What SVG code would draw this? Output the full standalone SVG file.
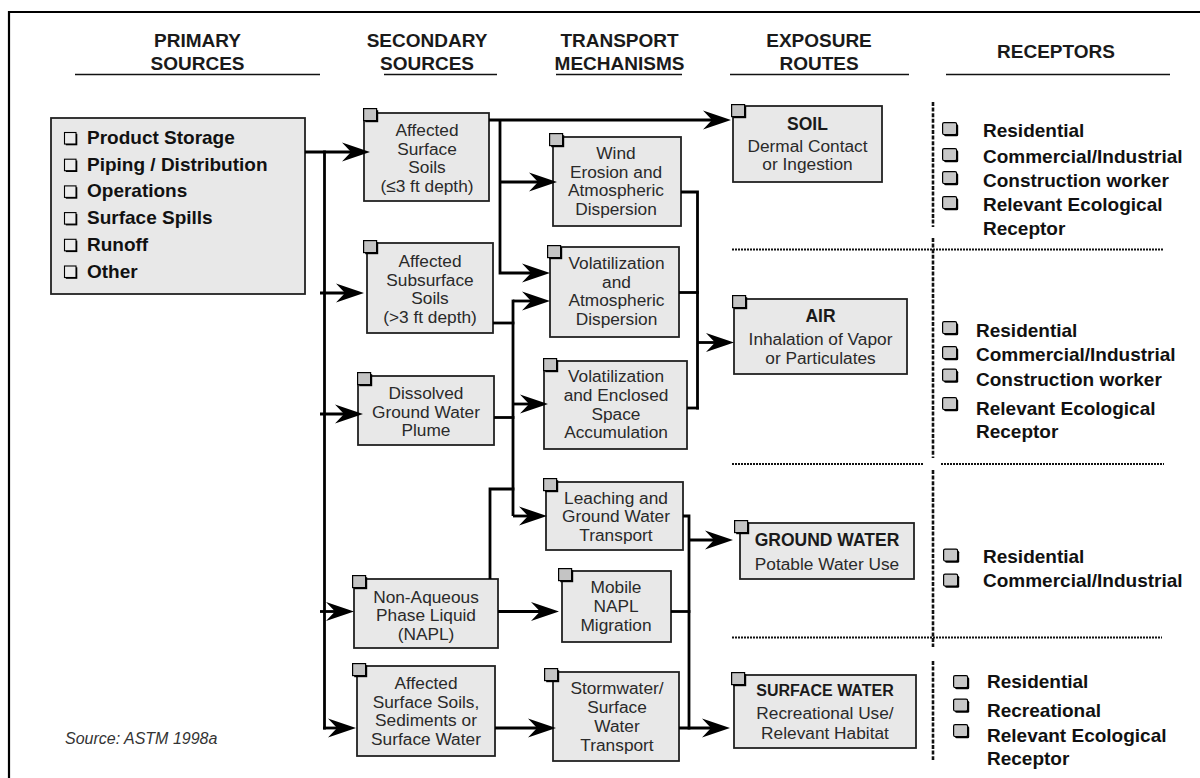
<svg xmlns="http://www.w3.org/2000/svg" xmlns:xlink="http://www.w3.org/1999/xlink" width="1200" height="778" viewBox="0 0 1200 778">
<style>
text{font-family:"Liberation Sans",Arial,sans-serif}
.h{font-size:19px;font-weight:bold;fill:#1a1a1a;text-anchor:middle}
.t{font-size:17.3px;fill:#2a2a2a;text-anchor:middle}
.tb{font-size:17.5px;font-weight:bold;fill:#1a1a1a;text-anchor:middle}
.p{font-size:19px;font-weight:bold;fill:#111}
.r{font-size:19px;font-weight:bold;fill:#111}
.src{font-size:16px;font-style:italic;fill:#333}
.box{fill:#e8e8e8;stroke:#222;stroke-width:1.8}
.ul{stroke:#111;stroke-width:1.7;fill:none}
.c{stroke:#000;stroke-width:2.8;fill:none}
.ca{stroke:#000;stroke-width:2.8;fill:none;marker-end:url(#arr)}
.dh{stroke:#111;stroke-width:2;stroke-dasharray:2 1;fill:none}
.dv{stroke:#111;stroke-width:2.6;stroke-dasharray:4 1.6;fill:none}
</style>
<defs>
<marker id="arr" viewBox="-19 -10 30 20" markerWidth="30" markerHeight="20" refX="0" refY="0" orient="auto" markerUnits="userSpaceOnUse" overflow="visible">
<path d="M10,0 L-18,-9.5 L-9,0 L-18,9.5 Z" fill="#000"/>
</marker>
<g id="tab"><rect x="2.2" y="2.2" width="13" height="12" fill="#000"/><rect x="0.6" y="0.6" width="13" height="12" fill="#c4c4c4" stroke="#000" stroke-width="1.2"/></g>
<g id="rbox"><rect x="2.2" y="2.2" width="14" height="12" rx="1.5" fill="#000"/><rect x="0.6" y="0.6" width="14" height="12" rx="1.5" fill="#c8c8c8" stroke="#000" stroke-width="1.2"/></g>
<g id="pbox"><rect x="1.8" y="1.8" width="11.5" height="11.5" fill="#000"/><rect x="0.5" y="0.5" width="11.5" height="11.5" fill="#ececec" stroke="#000" stroke-width="1.1"/></g>
</defs>
<rect width="1200" height="778" fill="#fff"/>
<path d="M9,790 V12 H1210" fill="none" stroke="#000" stroke-width="2.2"/>

<g id="headers">
<text class="h" x="197.5" y="46.5">PRIMARY</text>
<text class="h" x="197.5" y="69.5">SOURCES</text>
<line class="ul" x1="75" y1="74.5" x2="320" y2="74.5"/>
<text class="h" x="427" y="46.5">SECONDARY</text>
<text class="h" x="427" y="69.5">SOURCES</text>
<line class="ul" x1="384" y1="74.5" x2="497" y2="74.5"/>
<text class="h" x="619.5" y="46.5">TRANSPORT</text>
<text class="h" x="619.5" y="69.5">MECHANISMS</text>
<line class="ul" x1="556" y1="74.5" x2="682" y2="74.5"/>
<text class="h" x="819" y="46.5">EXPOSURE</text>
<text class="h" x="819" y="69.5">ROUTES</text>
<line class="ul" x1="730" y1="74.5" x2="909" y2="74.5"/>
<text class="h" x="1056" y="58">RECEPTORS</text>
<line class="ul" x1="946" y1="74.5" x2="1170" y2="74.5"/>
</g>

<g id="primary">
<rect class="box" x="51" y="118" width="254" height="176"/>
<use xlink:href="#pbox" x="64" y="132"/>
<use xlink:href="#pbox" x="64" y="158.7"/>
<use xlink:href="#pbox" x="64" y="185.4"/>
<use xlink:href="#pbox" x="64" y="212.1"/>
<use xlink:href="#pbox" x="64" y="238.8"/>
<use xlink:href="#pbox" x="64" y="265.5"/>
<text class="p" x="87" y="144">Product Storage</text>
<text class="p" x="87" y="170.7">Piping / Distribution</text>
<text class="p" x="87" y="197.4">Operations</text>
<text class="p" x="87" y="224.1">Surface Spills</text>
<text class="p" x="87" y="250.8">Runoff</text>
<text class="p" x="87" y="277.5">Other</text>
</g>

<g id="s1">
<rect class="box" x="364" y="113" width="125" height="88"/>
<use xlink:href="#tab" x="363" y="108"/>
<text class="t" x="427" y="136">Affected</text>
<text class="t" x="427" y="154.5">Surface</text>
<text class="t" x="427" y="173">Soils</text>
<text class="t" x="427" y="191.5">(≤3 ft depth)</text>
</g>
<g id="s2">
<rect class="box" x="367" y="243" width="126" height="90"/>
<use xlink:href="#tab" x="363" y="240"/>
<text class="t" x="430" y="267">Affected</text>
<text class="t" x="430" y="285.5">Subsurface</text>
<text class="t" x="430" y="304">Soils</text>
<text class="t" x="430" y="322.5">(&gt;3 ft depth)</text>
</g>
<g id="s3">
<rect class="box" x="358" y="376" width="136" height="69"/>
<use xlink:href="#tab" x="357" y="372"/>
<text class="t" x="426" y="399">Dissolved</text>
<text class="t" x="426" y="417.5">Ground Water</text>
<text class="t" x="426" y="436">Plume</text>
</g>
<g id="s4">
<rect class="box" x="354" y="579" width="144" height="69"/>
<use xlink:href="#tab" x="352" y="575"/>
<text class="t" x="426" y="602.5">Non-Aqueous</text>
<text class="t" x="426" y="621">Phase Liquid</text>
<text class="t" x="426" y="639.5">(NAPL)</text>
</g>
<g id="s5">
<rect class="box" x="357" y="666" width="138" height="90"/>
<use xlink:href="#tab" x="352" y="663"/>
<text class="t" x="426" y="689">Affected</text>
<text class="t" x="426" y="707.5">Surface Soils,</text>
<text class="t" x="426" y="726">Sediments or</text>
<text class="t" x="426" y="744.5">Surface Water</text>
</g>

<g id="t1">
<rect class="box" x="553" y="137" width="128" height="89"/>
<use xlink:href="#tab" x="549" y="133"/>
<text class="t" x="616" y="159">Wind</text>
<text class="t" x="616" y="177.5">Erosion and</text>
<text class="t" x="616" y="196">Atmospheric</text>
<text class="t" x="616" y="214.5">Dispersion</text>
</g>
<g id="t2">
<rect class="box" x="550" y="247" width="129" height="90"/>
<use xlink:href="#tab" x="547" y="245"/>
<text class="t" x="616.5" y="269">Volatilization</text>
<text class="t" x="616.5" y="287.5">and</text>
<text class="t" x="616.5" y="306">Atmospheric</text>
<text class="t" x="616.5" y="324.5">Dispersion</text>
</g>
<g id="t3">
<rect class="box" x="544" y="361" width="143" height="88"/>
<use xlink:href="#tab" x="543" y="358"/>
<text class="t" x="616" y="382">Volatilization</text>
<text class="t" x="616" y="400.5">and Enclosed</text>
<text class="t" x="616" y="419.5">Space</text>
<text class="t" x="616" y="438">Accumulation</text>
</g>
<g id="t4">
<rect class="box" x="546" y="482" width="137" height="68"/>
<use xlink:href="#tab" x="543" y="478"/>
<text class="t" x="616" y="503.5">Leaching and</text>
<text class="t" x="616" y="522">Ground Water</text>
<text class="t" x="616" y="540.5">Transport</text>
</g>
<g id="t5">
<rect class="box" x="562" y="571" width="109" height="71"/>
<use xlink:href="#tab" x="558" y="568"/>
<text class="t" x="616" y="592.5">Mobile</text>
<text class="t" x="616" y="611.5">NAPL</text>
<text class="t" x="616" y="630.5">Migration</text>
</g>
<g id="t6">
<rect class="box" x="553" y="672" width="126" height="89"/>
<use xlink:href="#tab" x="544" y="668"/>
<text class="t" x="617" y="693.5">Stormwater/</text>
<text class="t" x="617" y="712.5">Surface</text>
<text class="t" x="617" y="731.5">Water</text>
<text class="t" x="617" y="750.5">Transport</text>
</g>

<g id="e1">
<rect class="box" x="733" y="106" width="149" height="76"/>
<use xlink:href="#tab" x="731" y="104"/>
<text class="tb" x="807.5" y="129.5">SOIL</text>
<text class="t" x="807.5" y="151.5">Dermal Contact</text>
<text class="t" x="807.5" y="170">or Ingestion</text>
</g>
<g id="e2">
<rect class="box" x="734" y="299" width="173" height="75"/>
<use xlink:href="#tab" x="732" y="295"/>
<text class="tb" x="820.5" y="321.5">AIR</text>
<text class="t" x="820.5" y="345">Inhalation of Vapor</text>
<text class="t" x="820.5" y="364">or Particulates</text>
</g>
<g id="e3">
<rect class="box" x="740" y="523" width="174" height="56"/>
<use xlink:href="#tab" x="734" y="520"/>
<text class="tb" x="827" y="546">GROUND WATER</text>
<text class="t" x="827" y="569.5">Potable Water Use</text>
</g>
<g id="e4">
<rect class="box" x="734" y="675" width="182" height="73"/>
<use xlink:href="#tab" x="731" y="672"/>
<text class="tb" x="825" y="696" style="font-size:16px">SURFACE WATER</text>
<text class="t" x="825" y="718.5">Recreational Use/</text>
<text class="t" x="825" y="738.5">Relevant Habitat</text>
</g>

<g id="dividers">
<line class="dh" x1="732" y1="249.5" x2="1164" y2="249.5"/>
<line class="dh" x1="732" y1="464" x2="924" y2="464"/>
<line class="dh" x1="941" y1="464" x2="1164" y2="464"/>
<line class="dh" x1="732" y1="637.5" x2="1162" y2="637.5"/>
<line class="dv" x1="933" y1="102" x2="933" y2="227"/>
<line class="dv" x1="933" y1="238" x2="933" y2="458"/>
<line class="dv" x1="933" y1="470" x2="933" y2="647"/>
<line class="dv" x1="933" y1="661" x2="933" y2="760"/>
</g>

<g id="r1">
<use xlink:href="#rbox" x="942" y="122"/>
<use xlink:href="#rbox" x="942" y="148"/>
<use xlink:href="#rbox" x="942" y="171"/>
<use xlink:href="#rbox" x="942" y="196"/>
<text class="r" x="983" y="137">Residential</text>
<text class="r" x="983" y="162.5">Commercial/Industrial</text>
<text class="r" x="983" y="187">Construction worker</text>
<text class="r" x="983" y="211">Relevant Ecological</text>
<text class="r" x="983" y="234.5">Receptor</text>
</g>
<g id="r2">
<use xlink:href="#rbox" x="942" y="321"/>
<use xlink:href="#rbox" x="942" y="346"/>
<use xlink:href="#rbox" x="942" y="368.5"/>
<use xlink:href="#rbox" x="942" y="397"/>
<text class="r" x="976" y="336.5">Residential</text>
<text class="r" x="976" y="361">Commercial/Industrial</text>
<text class="r" x="976" y="386">Construction worker</text>
<text class="r" x="976" y="415">Relevant Ecological</text>
<text class="r" x="976" y="437.5">Receptor</text>
</g>
<g id="r3">
<use xlink:href="#rbox" x="943" y="548.5"/>
<use xlink:href="#rbox" x="943" y="573.5"/>
<text class="r" x="983" y="563">Residential</text>
<text class="r" x="983" y="587">Commercial/Industrial</text>
</g>
<g id="r4">
<use xlink:href="#rbox" x="953" y="675"/>
<use xlink:href="#rbox" x="953" y="698.5"/>
<use xlink:href="#rbox" x="953" y="724"/>
<text class="r" x="987" y="687.5">Residential</text>
<text class="r" x="987" y="717">Recreational</text>
<text class="r" x="987" y="741.5">Relevant Ecological</text>
<text class="r" x="987" y="765">Receptor</text>
</g>

<text class="src" x="65" y="744">Source: ASTM 1998a</text>

<g id="connectors">
<path class="ca" d="M305,152 H360"/>
<path class="c" d="M324.5,150.6 V729.4"/>
<path class="ca" d="M320,293 H354"/>
<path class="ca" d="M320,414 H353"/>
<path class="ca" d="M320,611.5 H344"/>
<path class="ca" d="M323,728 H346"/>
<path class="ca" d="M489,120 H721"/>
<path class="ca" d="M500,120 V273 H540"/>
<path class="ca" d="M500,182 H547"/>
<path class="c" d="M493,323 H514.4"/>
<path class="ca" d="M513,301 H540"/>
<path class="c" d="M513,299.6 V516"/>
<path class="ca" d="M513,404 H538"/>
<path class="c" d="M494,417.5 H514.4"/>
<path class="ca" d="M513,516 H537"/>
<path class="c" d="M490,579 V489 H514.4"/>
<path class="ca" d="M498,611.5 H549"/>
<path class="ca" d="M495,728 H546"/>
<path class="c" d="M681,192 H697.5 V409.4"/>
<path class="c" d="M679,292.5 H698.9"/>
<path class="c" d="M687,408 H698.9"/>
<path class="ca" d="M697.5,342.5 H724"/>
<path class="c" d="M683,516 H689 V729.4"/>
<path class="c" d="M671,611.5 H690.4"/>
<path class="ca" d="M689,540 H723"/>
<path class="ca" d="M679,728 H720"/>
</g>
</svg>
